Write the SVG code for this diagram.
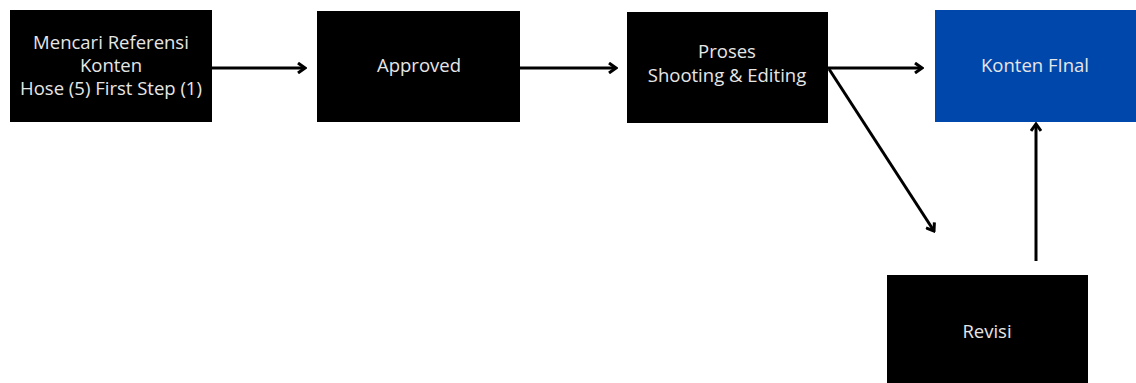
<svg xmlns="http://www.w3.org/2000/svg" width="1136" height="383" viewBox="0 0 1136 383">
<defs>
<style>
.box{fill:#000}
.blue{fill:#0047ab}
.t{font-family:"Open Sans","Liberation Sans",sans-serif;font-size:18.5px;fill:#e6e6e6;text-anchor:middle}
.c{stroke:#000;stroke-width:3;fill:none}
</style>
<marker id="ah" markerWidth="10" markerHeight="12" refX="8" refY="6" orient="auto" markerUnits="userSpaceOnUse">
<path d="M1,1 L8,6 L1,11" fill="none" stroke="#000" stroke-width="3"/>
</marker>
</defs>
<rect width="1136" height="383" fill="#fff"/>
<g id="connectors">
<line class="c" x1="212" y1="68" x2="305" y2="68" marker-end="url(#ah)"/>
<line class="c" x1="520" y1="68" x2="616" y2="68" marker-end="url(#ah)"/>
<line class="c" x1="828" y1="68" x2="922" y2="68" marker-end="url(#ah)"/>
<line class="c" x1="829" y1="69" x2="934" y2="231" marker-end="url(#ah)"/>
<line class="c" x1="1036" y1="261" x2="1036" y2="124" marker-end="url(#ah)"/>
</g>
<g id="n1">
<rect class="box" x="10" y="10" width="202" height="112"/>
<text class="t" x="111" y="49">Mencari Referensi</text>
<text class="t" x="111" y="72">Konten</text>
<text class="t" x="111" y="95">Hose (5) First Step (1)</text>
</g>
<g id="n2">
<rect class="box" x="317" y="11" width="203" height="111"/>
<text class="t" x="419" y="72">Approved</text>
</g>
<g id="n3">
<rect class="box" x="627" y="12" width="201" height="111"/>
<text class="t" x="727" y="58">Proses</text>
<text class="t" x="727" y="82">Shooting &amp; Editing</text>
</g>
<g id="n4">
<rect class="blue" x="935" y="10" width="201" height="112"/>
<text class="t" x="1035" y="72">Konten FInal</text>
</g>
<g id="n5">
<rect class="box" x="887" y="275" width="201" height="108"/>
<text class="t" x="987" y="338">Revisi</text>
</g>
</svg>
